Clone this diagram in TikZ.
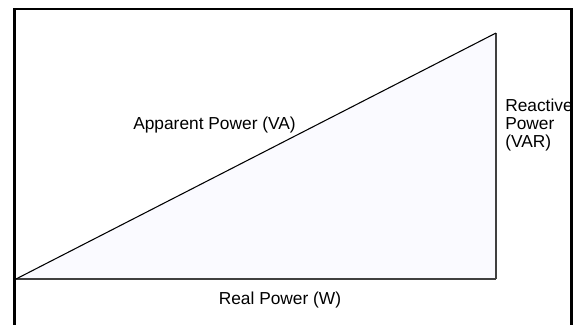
\documentclass[tikz,border=0pt]{standalone}
\usepackage{fontspec}
\setmainfont{Liberation Sans}
\usepackage{tikz}

\begin{document}
\begin{tikzpicture}[x=0.75pt, y=-0.75pt,
    lbl/.style={font=\fontsize{13}{13.5}\selectfont, inner sep=0pt},
    frameline/.style={line width=1.8pt, line cap=rect}]
  \useasboundingbox (0, 0) rectangle (575, 325);
  \coordinate (origin) at (16, 279);
  \coordinate (base) at (496, 279);
  \coordinate (apex) at (496, 33);
  % outer frame, open at the bottom
  \draw[frameline] (14.5, 330) -- (14.5, 9) -- (571.5, 9) -- (571.5, 330);
  \fill[blue!2] (origin) -- (base) -- (apex) -- cycle;
  \draw[black!75, line width=1.5pt] (origin) -- (base);
  \draw[black!75, line width=1pt] (base) -- (apex);
  \draw[line width=0.8pt] (origin) -- (apex);
  \node[lbl, anchor=base west] (apparent) at (133, 129) {Apparent Power (VA)};
  \node[lbl, anchor=base west, align=left] (reactive) at (505, 147)
    {Reactive\\Power\\(VAR)};
  \node[lbl, anchor=base] (real) at (280, 304) {Real Power (W)};
\end{tikzpicture}
\end{document}
